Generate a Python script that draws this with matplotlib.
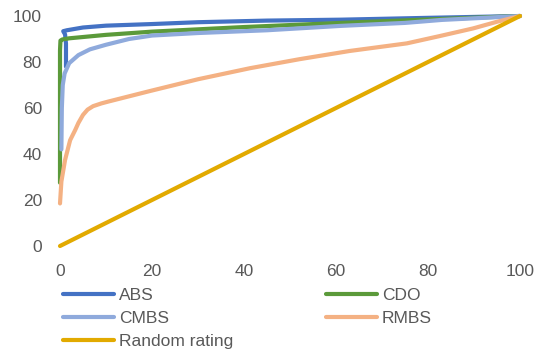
import matplotlib
matplotlib.use("Agg")
import matplotlib.pyplot as plt

plt.rcParams['font.family'] = ['Liberation Sans', 'DejaVu Sans']

abs_x = [1.3, 1.3, 1.1, 0.7, 1.5, 5, 10, 20, 30, 45, 61, 80, 100]
abs_y = [78, 88, 92, 93.4, 93.8, 95, 95.8, 96.5, 97.3, 98, 98.4, 99.2, 100]

cdo_x = [0, 0, 0.1, 0.5, 2, 10, 20, 40, 61, 80, 100]
cdo_y = [27.5, 85, 89.3, 89.8, 90.3, 91.8, 93.2, 95.2, 97, 98.5, 100]

cmbs_x = [0.3, 0.4, 0.6, 1, 2, 4, 6.5, 10, 15, 20, 30, 45, 61, 75, 83, 100]
cmbs_y = [42, 60, 70, 75, 79.5, 83, 85.5, 87.5, 90, 91.5, 92.6, 93.8, 95.7, 97, 98.3, 100]

rmbs_x = [0, 0.3, 1.1, 2.2, 3.3, 4, 5, 6, 7.2, 9, 10.5, 19.6, 30, 41.3, 52, 63, 75.4, 82.6, 89.8, 95, 100]
rmbs_y = [18.5, 28, 37.4, 46, 50.4, 53.5, 57, 59.3, 60.8, 62, 62.8, 67.4, 72.5, 77.3, 81.2, 84.8, 88.1, 91.3, 94.6, 97.5, 100]

rand_x = [0, 100]
rand_y = [0, 100]

x_ticks = [0, 20, 40, 60, 80, 100]
y_ticks = [0, 20, 40, 60, 80, 100]

fig = plt.figure(figsize=(5.42, 3.49), dpi=100)
ax = fig.add_axes([60/542, 1-246/349, 460/542, 230/349])

lw = 3.0
l_abs, = ax.plot(abs_x, abs_y, color='#4472C4', lw=lw, label='ABS', solid_capstyle='round', solid_joinstyle='round')
l_cdo, = ax.plot(cdo_x, cdo_y, color='#5B9A3A', lw=lw, label='CDO', solid_capstyle='round', solid_joinstyle='round')
l_cmbs, = ax.plot(cmbs_x, cmbs_y, color='#8FAADC', lw=lw, label='CMBS', solid_capstyle='round', solid_joinstyle='round')
l_rmbs, = ax.plot(rmbs_x, rmbs_y, color='#F4B183', lw=lw, label='RMBS', solid_capstyle='round', solid_joinstyle='round')
l_rand, = ax.plot(rand_x, rand_y, color='#E2AA00', lw=lw, label='Random rating', solid_capstyle='round')

for ln in (l_abs, l_cdo, l_cmbs, l_rmbs, l_rand):
    ln.set_clip_on(False)

ax.set_xlim(0, 100)
ax.set_ylim(0, 100)
ax.set_xticks(x_ticks)
ax.set_yticks(y_ticks)
for s in ax.spines.values():
    s.set_visible(False)
ax.tick_params(length=0, labelsize=12.5, labelcolor='#595959')
ax.tick_params(axis='y', pad=13)
ax.tick_params(axis='x', pad=13)

handles = [l_abs, l_cmbs, l_rand, l_cdo, l_rmbs]
leg = fig.legend(handles=handles, labels=[h.get_label() for h in handles],
                 ncol=2, loc='upper left', bbox_to_anchor=(63/542, 1-288/349),
                 frameon=False, fontsize=12.5, labelcolor='#595959',
                 handlelength=2.95, handletextpad=0.3, labelspacing=0.45,
                 columnspacing=5.3, borderpad=0, borderaxespad=0)
for h in leg.get_lines():
    h.set_linewidth(3.0)

fig.savefig('out.png', dpi=100)
